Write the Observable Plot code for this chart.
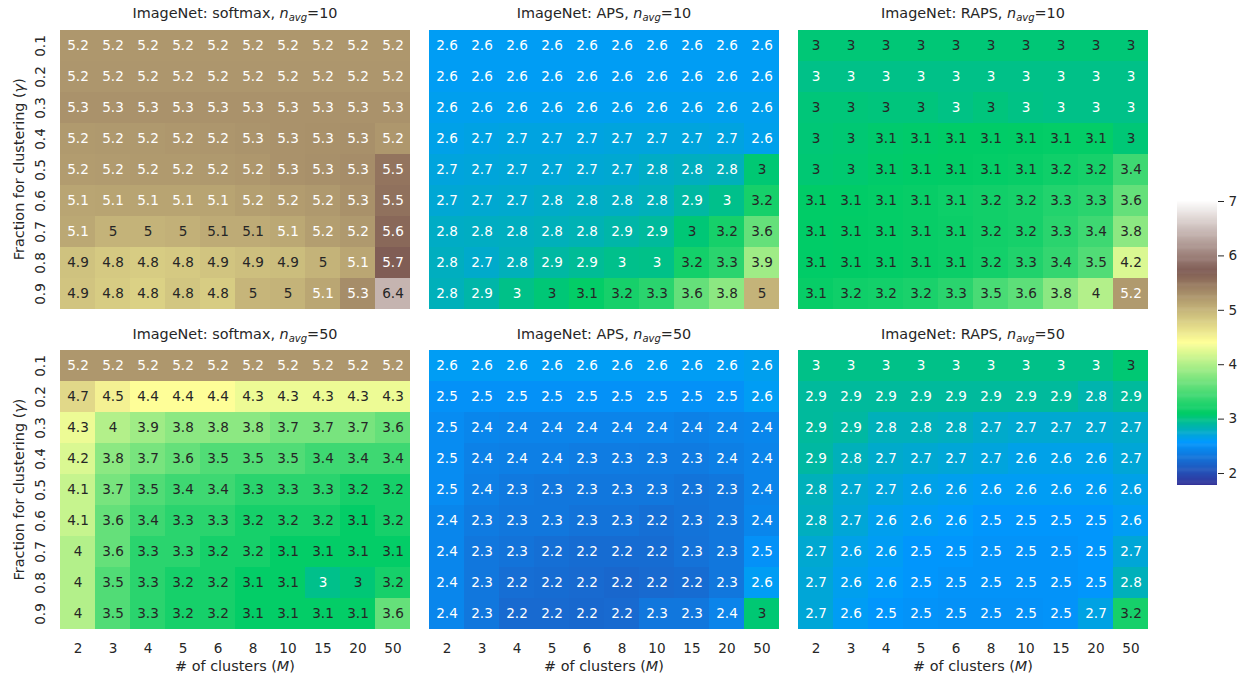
<!DOCTYPE html>
<html><head><meta charset="utf-8">
<script src="https://cdn.jsdelivr.net/npm/d3@7"></script>
<script src="https://cdn.jsdelivr.net/npm/@observablehq/plot@0.6"></script>
<style>
body{margin:0;background:#fff;}
#wrap{position:relative;width:1244px;height:674px;overflow:hidden;font-family:"DejaVu Sans";}
#wrap svg{position:absolute;}
</style></head><body><div id="wrap"></div>
<script>
// ---------- data ----------
const clusters = ["2","3","4","5","6","8","10","15","20","50"];
const gammas = ["0.1","0.2","0.3","0.4","0.5","0.6","0.7","0.8","0.9"];

const softmax10 = [
  [5.22,5.22,5.22,5.22,5.22,5.22,5.22,5.22,5.22,5.22],
  [5.23,5.23,5.23,5.23,5.23,5.23,5.23,5.23,5.23,5.23],
  [5.26,5.26,5.26,5.26,5.26,5.26,5.26,5.26,5.26,5.26],
  [5.20,5.21,5.21,5.22,5.23,5.25,5.26,5.27,5.28,5.22],
  [5.18,5.19,5.20,5.20,5.21,5.22,5.26,5.28,5.30,5.50],
  [5.11,5.12,5.12,5.12,5.12,5.16,5.18,5.21,5.27,5.53],
  [5.09,5.00,5.00,5.02,5.06,5.06,5.09,5.17,5.21,5.60],
  [4.88,4.82,4.80,4.82,4.86,4.90,4.92,5.00,5.10,5.70],
  [4.86,4.80,4.76,4.85,4.80,4.98,5.00,5.10,5.30,6.40]
];
const aps10 = [
  [2.60,2.60,2.60,2.60,2.60,2.60,2.60,2.60,2.60,2.60],
  [2.60,2.60,2.60,2.60,2.60,2.60,2.60,2.60,2.60,2.60],
  [2.62,2.62,2.62,2.62,2.62,2.62,2.62,2.62,2.62,2.62],
  [2.64,2.66,2.67,2.67,2.67,2.68,2.68,2.68,2.67,2.63],
  [2.68,2.69,2.70,2.70,2.71,2.72,2.76,2.78,2.80,3.04],
  [2.71,2.72,2.73,2.75,2.76,2.77,2.80,2.88,2.96,3.20],
  [2.76,2.77,2.78,2.80,2.82,2.86,2.90,3.03,3.20,3.60],
  [2.78,2.74,2.80,2.88,2.92,2.96,2.97,3.18,3.30,3.90],
  [2.80,2.86,2.97,3.03,3.10,3.20,3.30,3.60,3.80,5.00]
];
const raps10 = [
  [3.03,3.03,3.03,3.03,3.03,3.03,3.03,3.03,3.03,3.03],
  [2.97,2.97,2.97,2.97,2.97,2.97,2.97,2.97,2.97,2.97],
  [3.02,3.02,3.01,3.01,2.98,3.01,2.98,2.97,2.97,2.97],
  [3.03,3.04,3.06,3.07,3.08,3.08,3.09,3.10,3.10,3.03],
  [3.04,3.05,3.07,3.08,3.09,3.10,3.12,3.16,3.20,3.40],
  [3.08,3.08,3.10,3.12,3.15,3.17,3.20,3.26,3.30,3.60],
  [3.08,3.09,3.10,3.12,3.14,3.17,3.20,3.30,3.40,3.80],
  [3.08,3.09,3.10,3.12,3.14,3.18,3.25,3.35,3.50,4.20],
  [3.12,3.16,3.18,3.22,3.30,3.46,3.56,3.80,4.00,5.20]
];
const softmax50 = [
  [5.22,5.22,5.22,5.22,5.22,5.22,5.22,5.22,5.22,5.22],
  [4.70,4.50,4.40,4.40,4.40,4.30,4.30,4.30,4.30,4.30],
  [4.30,4.00,3.90,3.80,3.80,3.80,3.70,3.70,3.70,3.60],
  [4.20,3.80,3.70,3.60,3.50,3.50,3.50,3.40,3.40,3.40],
  [4.10,3.70,3.50,3.40,3.40,3.30,3.30,3.30,3.20,3.20],
  [4.10,3.60,3.40,3.30,3.30,3.20,3.20,3.20,3.10,3.20],
  [4.00,3.60,3.30,3.30,3.20,3.20,3.10,3.10,3.10,3.10],
  [4.00,3.50,3.30,3.20,3.20,3.10,3.10,2.96,3.03,3.20],
  [4.00,3.50,3.30,3.20,3.20,3.10,3.10,3.10,3.10,3.60]
];
const aps50 = [
  [2.60,2.60,2.60,2.60,2.60,2.60,2.60,2.60,2.60,2.62],
  [2.50,2.50,2.50,2.50,2.50,2.50,2.50,2.50,2.50,2.60],
  [2.46,2.42,2.40,2.40,2.40,2.40,2.40,2.38,2.40,2.42],
  [2.46,2.38,2.36,2.36,2.34,2.34,2.33,2.33,2.36,2.40],
  [2.46,2.36,2.32,2.30,2.30,2.30,2.30,2.28,2.30,2.40],
  [2.42,2.33,2.30,2.30,2.27,2.27,2.24,2.27,2.30,2.42],
  [2.42,2.30,2.27,2.24,2.22,2.22,2.22,2.26,2.30,2.50],
  [2.42,2.30,2.23,2.22,2.20,2.18,2.20,2.22,2.30,2.60],
  [2.42,2.30,2.20,2.20,2.19,2.20,2.30,2.30,2.40,3.04]
];
const raps50 = [
  [2.97,2.97,2.97,2.97,2.97,2.97,2.97,2.97,2.97,3.04],
  [2.90,2.90,2.90,2.90,2.90,2.90,2.90,2.90,2.84,2.90],
  [2.90,2.88,2.80,2.80,2.78,2.74,2.72,2.72,2.72,2.74],
  [2.88,2.80,2.74,2.72,2.70,2.68,2.64,2.64,2.64,2.70],
  [2.80,2.72,2.68,2.64,2.62,2.60,2.60,2.60,2.60,2.64],
  [2.78,2.70,2.62,2.60,2.58,2.54,2.54,2.54,2.54,2.60],
  [2.72,2.64,2.60,2.54,2.54,2.52,2.52,2.52,2.54,2.70],
  [2.70,2.62,2.58,2.54,2.52,2.52,2.52,2.52,2.54,2.80],
  [2.70,2.60,2.54,2.52,2.50,2.50,2.50,2.52,2.66,3.20]
];
const methods = ["softmax","APS","RAPS"];
const navgs = [10, 50];
const cbarTicks = [2,3,4,5,6,7];
const colorDomain = [1.78, 7];
// matplotlib "terrain" colormap anchors
const terrainStops = [0, 0.15, 0.25, 0.5, 0.75, 1];
const terrainColors = ["#333399","#0099ff","#00cc66","#ffff99","#805c54","#ffffff"];

const panels = [
  {method: methods[0], navg: navgs[0], values: softmax10, col: 0, row: 0},
  {method: methods[1], navg: navgs[0], values: aps10, col: 1, row: 0},
  {method: methods[2], navg: navgs[0], values: raps10, col: 2, row: 0},
  {method: methods[0], navg: navgs[1], values: softmax50, col: 0, row: 1},
  {method: methods[1], navg: navgs[1], values: aps50, col: 1, row: 1},
  {method: methods[2], navg: navgs[1], values: raps50, col: 2, row: 1}
];

// ---------- layout ----------
const colLefts = [58, 427, 796];
const rowTops = [28, 348.3];
const W = 354, H = 282.4;
const ink = "#262626";
const FONT = "DejaVu Sans";

const colorOpts = {
  type: "linear",
  domain: terrainStops.map(t => colorDomain[0] + t * (colorDomain[1] - colorDomain[0])),
  range: terrainColors,
  interpolate: "rgb",
  clamp: true
};
const cs = Plot.scale({color: colorOpts});
function lum(v) {
  const c = d3.rgb(cs.apply(v));
  const f = x => { x /= 255; return x <= 0.03928 ? x / 12.92 : Math.pow((x + 0.055) / 1.055, 2.4); };
  return 0.2126 * f(c.r) + 0.7152 * f(c.g) + 0.0722 * f(c.b);
}
const fmt = d3.format(".2~g");
const wrap = document.getElementById("wrap");

panels.forEach(p => {
  const left = p.col === 0, bottom = p.row === 1;
  const ml = left ? 58 : 0;
  const mb = bottom ? 30 : 0;
  const data = [];
  p.values.forEach((row, i) => row.forEach((v, j) => data.push({g: gammas[i], m: clusters[j], v})));
  const svg = Plot.plot({
    width: ml + W, height: H + mb,
    marginLeft: ml, marginRight: 0, marginTop: 0, marginBottom: mb,
    style: {fontFamily: FONT, fontSize: "13.6px", color: ink, background: "transparent", overflow: "visible"},
    x: {type: "band", domain: clusters, padding: 0, axis: null},
    y: {type: "band", domain: gammas, padding: 0, axis: null},
    color: colorOpts,
    marks: [
      Plot.cell(data, {x: "m", y: "g", fill: "v", shapeRendering: "crispEdges"}),
      Plot.text(data.filter(d => lum(d.v) > 0.408), {x: "m", y: "g", text: d => fmt(d.v), fill: ink, fontSize: 13.6}),
      Plot.text(data.filter(d => lum(d.v) <= 0.408), {x: "m", y: "g", text: d => fmt(d.v), fill: "white", fontSize: 13.6}),
      left ? Plot.axisY({tickRotate: -90, tickSize: 0, tickPadding: 14, label: null}) : null,
      bottom ? Plot.axisX({tickSize: 0, tickPadding: 12, label: null}) : null
    ]
  });
  svg.style.left = (colLefts[p.col] - ml) + "px";
  svg.style.top = rowTops[p.row] + "px";
  wrap.appendChild(svg);
});

// colorbar
const rampValues = d3.range(colorDomain[0], colorDomain[1], 0.02);
const cbTop = 201, cbH = 284, cbPad = 10;
const cbar = Plot.plot({
  width: 40 + 30, height: cbH + 2 * cbPad,
  marginLeft: 0, marginRight: 30, marginTop: cbPad, marginBottom: cbPad,
  style: {fontFamily: FONT, fontSize: "13.6px", color: ink, background: "transparent", overflow: "visible"},
  x: {domain: [0, 1], axis: null},
  y: {domain: colorDomain, axis: null},
  color: colorOpts,
  marks: [
    Plot.rect(rampValues, {x1: 0, x2: 1, y1: d => d, y2: d => Math.min(d + 0.03, colorDomain[1]), fill: d => d}),
    Plot.axisY(cbarTicks, {anchor: "right", tickSize: 6, tickPadding: 5, label: null, tickFormat: d => String(d)})
  ]
});
cbar.style.left = "1177px";
cbar.style.top = (cbTop - cbPad) + "px";
wrap.appendChild(cbar);

// titles and axis labels
const ov = d3.create("svg").attr("width", 1244).attr("height", 674)
  .style("left", "0px").style("top", "0px").style("pointer-events", "none")
  .attr("font-family", FONT).attr("fill", ink);
panels.forEach(p => {
  const cx = colLefts[p.col] + W / 2;
  const by = rowTops[p.row] - 9.8;
  const t = ov.append("text").attr("x", cx).attr("y", by).attr("text-anchor", "middle").attr("font-size", 14.4);
  t.append("tspan").text(`ImageNet: ${p.method}, `);
  t.append("tspan").attr("font-style", "italic").text("n");
  t.append("tspan").attr("font-style", "italic").attr("font-size", 10).attr("dy", 3).text("avg");
  t.append("tspan").attr("dy", -3).text(`=${p.navg}`);
  if (p.col === 0) {
    const yl = ov.append("text").attr("transform", `translate(24,${rowTops[p.row] + H / 2}) rotate(-90)`)
      .attr("text-anchor", "middle").attr("font-size", 14.4);
    yl.append("tspan").text("Fraction for clustering (");
    yl.append("tspan").attr("font-style", "italic").text("γ");
    yl.append("tspan").text(")");
  }
  if (p.row === 1) {
    const xl = ov.append("text").attr("x", cx).attr("y", 671).attr("text-anchor", "middle").attr("font-size", 14.4);
    xl.append("tspan").text("# of clusters (");
    xl.append("tspan").attr("font-style", "italic").text("M");
    xl.append("tspan").text(")");
  }
});
wrap.appendChild(ov.node());
</script>
</body></html>
